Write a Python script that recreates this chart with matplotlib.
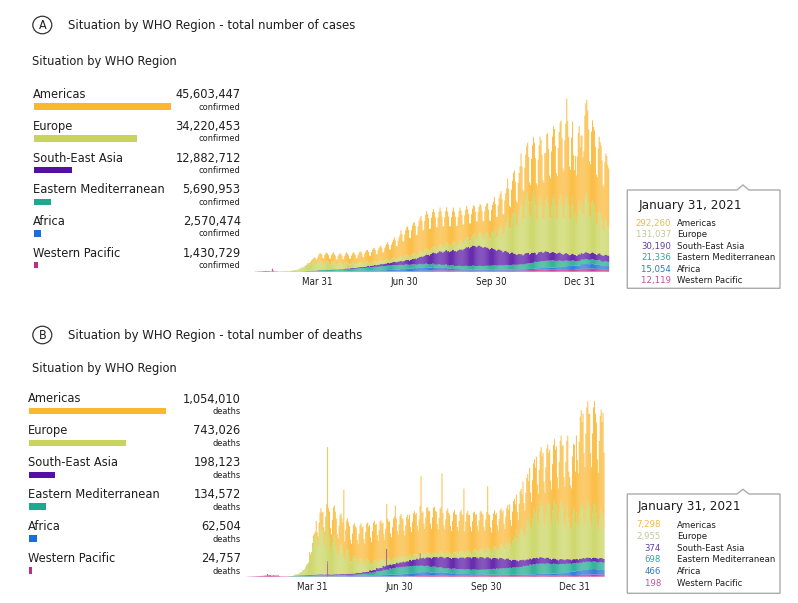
import datetime as dt

import matplotlib
matplotlib.use("Agg")
import matplotlib.pyplot as plt
import matplotlib.dates as mdates
from matplotlib.patches import Ellipse, Polygon
import numpy as np

W, H = 798, 603

REGIONS = ["Americas", "Europe", "South-East Asia", "Eastern Mediterranean",
           "Africa", "Western Pacific"]
BAR_COLORS = ["#FBB731", "#C9D45C", "#5410A3", "#1BAA8D", "#1A6FD6", "#C42A8C"]
TIP_COLORS = ["#F5B544", "#C3C79A", "#5F3FA6", "#2BA79E", "#3079C2", "#C0519B"]

TOTAL_CASES = [45603447, 34220453, 12882712, 5690953, 2570474, 1430729]
TOTAL_DEATHS = [1054010, 743026, 198123, 134572, 62504, 24757]
LAST_DAY_CASES = [292260, 131037, 30190, 21336, 15054, 12119]
LAST_DAY_DEATHS = [7298, 2955, 374, 698, 466, 198]
LAST_DAY_LABEL = "January 31, 2021"

TICK_DATES = [dt.date(2020, 3, 31), dt.date(2020, 6, 30),
              dt.date(2020, 9, 30), dt.date(2020, 12, 31)]
TICK_LABELS = ["Mar 31", "Jun 30", "Sep 30", "Dec 31"]

FIRST_DAY = np.datetime64("2020-01-22")

# ---------------------------------------------------------------------------
# Daily new cases, thousands, 22 Jan 2020 .. 31 Jan 2021 (two weeks per line)
# ---------------------------------------------------------------------------
amr_cases = [
    0, 0, 0, 0, 0, 0, 0, 0, 0, 0,
    0, 0, 0, 0, 0, 0, 0, 0, 0, 0, 0, 0, 0, 0,
    0, 0, 0, 0, 0, 0, 0, 0, 0, 0, 0, 0, 0, 0,
    0, 0, 0, 0, 0, 0, 0, 0, 0, 0, 0, 0, 1, 1,
    1, 1, 1, 2, 2, 3, 4, 5, 6, 7, 9, 12, 14, 17,
    20, 22, 20, 23, 27, 30, 33, 36, 34, 28, 27, 34, 38, 40,
    38, 35, 28, 27, 34, 39, 42, 40, 36, 27, 26, 35, 38, 42,
    41, 38, 29, 27, 36, 41, 45, 42, 38, 29, 28, 37, 42, 47,
    45, 40, 30, 29, 39, 45, 49, 51, 45, 34, 32, 44, 50, 55,
    57, 50, 38, 36, 49, 56, 61, 62, 55, 41, 40, 54, 62, 67,
    68, 60, 45, 43, 59, 67, 73, 80, 70, 53, 50, 69, 78, 86,
    97, 85, 64, 61, 83, 95, 104, 126, 110, 83, 79, 108, 123, 134,
    140, 125, 95, 90, 122, 140, 150, 152, 135, 100, 97, 132, 150, 160,
    172, 150, 113, 108, 147, 168, 183, 170, 152, 110, 106, 150, 170, 180,
    166, 145, 109, 104, 142, 162, 177, 161, 140, 105, 101, 137, 157, 171,
    155, 135, 101, 97, 132, 151, 165, 150, 130, 98, 94, 127, 146, 159,
    144, 125, 94, 90, 122, 140, 152, 132, 115, 86, 83, 113, 129, 140,
    129, 112, 84, 81, 110, 125, 137, 132, 115, 86, 83, 113, 129, 140,
    136, 118, 89, 85, 116, 132, 144, 150, 130, 98, 94, 127, 146, 159,
    155, 135, 101, 97, 132, 151, 165, 167, 145, 109, 104, 142, 162, 190,
    184, 160, 120, 115, 157, 179, 195, 213, 185, 139, 133, 181, 207, 226,
    247, 215, 161, 155, 211, 241, 255, 265, 230, 173, 166, 225, 258, 280,
    288, 250, 188, 180, 260, 230, 300, 311, 270, 203, 194, 265, 302, 329,
    334, 290, 218, 209, 284, 325, 350, 368, 320, 240, 230, 314, 358, 450,
    370, 330, 250, 240, 330, 360, 250, 230, 280, 230, 290, 340, 360, 300,
    320, 330, 280, 300, 400, 430, 450, 414, 360, 270, 259, 353, 390, 370,
    368, 320, 240, 230, 314, 350, 340, 334, 290, 218, 209, 284, 310, 310,
    300, 292,
]
eur_cases = [
    0, 0, 0, 0, 0, 0, 0, 0, 0, 0,
    0, 0, 0, 0, 0, 0, 0, 0, 0, 0, 0, 0, 0, 0,
    0, 0, 0, 0, 0, 0, 0, 0, 0, 0, 1, 1, 1, 1,
    1, 1, 2, 2, 2, 3, 3, 5, 6, 6, 7, 9, 11, 12,
    16, 18, 17, 19, 22, 24, 26, 32, 30, 31, 33, 38, 40, 42,
    44, 40, 32, 33, 40, 46, 48, 44, 40, 30, 29, 37, 42, 44,
    40, 36, 27, 26, 34, 38, 41, 35, 31, 23, 22, 29, 33, 36,
    32, 28, 21, 20, 27, 31, 34, 29, 25, 19, 18, 24, 28, 30,
    25, 22, 17, 16, 21, 25, 27, 23, 20, 15, 14, 19, 22, 24,
    21, 18, 14, 13, 18, 20, 22, 20, 17, 13, 12, 17, 19, 21,
    20, 17, 13, 12, 17, 19, 21, 21, 18, 14, 13, 18, 20, 22,
    22, 19, 14, 14, 19, 21, 23, 23, 20, 15, 14, 20, 22, 24,
    23, 20, 15, 14, 20, 22, 24, 25, 22, 17, 16, 22, 25, 27,
    26, 23, 17, 17, 23, 26, 28, 29, 25, 19, 18, 25, 28, 30,
    32, 28, 21, 20, 27, 31, 34, 35, 30, 23, 22, 29, 34, 37,
    38, 33, 25, 24, 32, 37, 40, 41, 36, 27, 26, 35, 40, 44,
    46, 40, 30, 29, 39, 45, 49, 52, 45, 34, 32, 44, 50, 55,
    63, 55, 41, 40, 54, 62, 67, 69, 60, 45, 43, 59, 67, 73,
    80, 70, 53, 50, 69, 78, 85, 104, 90, 68, 65, 88, 101, 110,
    132, 115, 86, 83, 113, 129, 140, 190, 165, 124, 119, 162, 185, 201,
    219, 190, 143, 137, 186, 213, 232, 276, 240, 180, 173, 235, 269, 293,
    288, 250, 188, 180, 245, 280, 305, 265, 230, 173, 166, 225, 258, 280,
    253, 220, 165, 158, 216, 246, 268, 265, 230, 173, 166, 225, 258, 281,
    265, 230, 173, 166, 225, 258, 281, 276, 240, 180, 173, 235, 269, 300,
    276, 240, 180, 173, 235, 280, 230, 180, 200, 160, 190, 250, 260, 220,
    250, 240, 190, 195, 265, 290, 290, 276, 240, 180, 173, 235, 250, 240,
    230, 200, 150, 144, 196, 215, 200, 196, 170, 128, 122, 167, 180, 170,
    140, 131,
]
sear_cases = [
    0, 0, 0, 0, 0, 0, 0, 0, 0, 0,
    0, 0, 0, 0, 0, 0, 0, 0, 0, 0, 0, 0, 0, 0,
    0, 0, 0, 0, 0, 0, 0, 0, 0, 0, 0, 0, 0, 0,
    0, 0, 0, 0, 0, 0, 0, 0, 0, 0, 0, 0, 0, 0,
    0, 0, 0, 0, 0, 0, 0, 0, 0, 0, 0, 0, 1, 1,
    0, 0, 0, 1, 1, 1, 1, 1, 1, 1, 1, 1, 1, 1,
    1, 1, 1, 2, 2, 2, 2, 2, 2, 2, 2, 2, 2, 2,
    2, 2, 2, 3, 3, 3, 3, 3, 3, 3, 4, 4, 4, 4,
    4, 4, 4, 5, 5, 5, 5, 5, 5, 5, 6, 6, 6, 6,
    7, 7, 6, 7, 7, 8, 8, 9, 9, 8, 9, 9, 10, 10,
    11, 11, 10, 11, 11, 12, 12, 13, 13, 12, 13, 14, 14, 15,
    16, 16, 15, 16, 17, 17, 18, 19, 19, 18, 19, 20, 21, 21,
    23, 23, 22, 24, 25, 26, 27, 28, 29, 28, 30, 31, 33, 34,
    36, 37, 36, 38, 40, 42, 44, 45, 46, 45, 48, 51, 53, 55,
    55, 56, 54, 56, 59, 62, 63, 64, 64, 61, 63, 66, 68, 69,
    69, 69, 66, 68, 70, 72, 74, 72, 73, 70, 73, 76, 78, 79,
    80, 81, 78, 82, 85, 88, 90, 91, 92, 88, 91, 95, 97, 98,
    97, 96, 92, 95, 98, 99, 96, 93, 93, 89, 90, 93, 91, 88,
    88, 84, 80, 82, 86, 84, 80, 79, 77, 72, 74, 78, 77, 74,
    72, 70, 64, 66, 70, 68, 66, 63, 61, 56, 58, 62, 60, 56,
    54, 52, 48, 49, 53, 52, 50, 49, 48, 44, 46, 52, 53, 52,
    50, 50, 44, 45, 50, 50, 49, 46, 43, 36, 38, 45, 47, 46,
    46, 45, 40, 42, 46, 47, 45, 43, 41, 37, 38, 40, 41, 40,
    40, 38, 35, 36, 38, 39, 38, 36, 34, 31, 32, 35, 36, 36,
    33, 31, 29, 29, 32, 33, 31, 30, 29, 26, 27, 31, 32, 30,
    31, 30, 28, 29, 32, 34, 33, 33, 31, 29, 30, 32, 33, 32,
    32, 30, 27, 28, 31, 32, 31, 31, 30, 28, 29, 31, 31, 30,
    30, 30,
]
emr_cases = [
    0, 0, 0, 0, 0, 0, 0, 0, 0, 0,
    0, 0, 0, 0, 0, 0, 0, 0, 0, 0, 0, 0, 0, 0,
    0, 0, 0, 0, 0, 0, 0, 0, 0, 0, 0, 0, 0, 0,
    0, 0, 0, 0, 1, 1, 1, 1, 1, 1, 1, 1, 1, 1,
    1, 1, 1, 2, 2, 2, 2, 3, 3, 3, 3, 3, 3, 3,
    4, 4, 4, 4, 4, 4, 4, 5, 5, 5, 5, 5, 5, 5,
    6, 6, 6, 6, 6, 6, 6, 7, 7, 6, 7, 7, 7, 8,
    8, 8, 7, 8, 8, 9, 9, 10, 10, 9, 10, 10, 11, 11,
    12, 12, 11, 12, 12, 13, 13, 14, 14, 13, 14, 14, 15, 15,
    16, 16, 15, 16, 16, 17, 17, 18, 18, 17, 18, 18, 19, 19,
    20, 20, 19, 20, 20, 21, 21, 22, 22, 21, 22, 22, 23, 23,
    22, 22, 21, 22, 22, 23, 23, 21, 21, 20, 21, 21, 22, 22,
    19, 19, 18, 19, 19, 20, 20, 18, 18, 17, 18, 18, 19, 19,
    17, 17, 16, 17, 17, 18, 18, 16, 16, 15, 16, 16, 17, 17,
    15, 15, 14, 15, 15, 16, 16, 15, 15, 14, 15, 15, 16, 16,
    15, 15, 14, 15, 15, 16, 16, 15, 15, 14, 15, 15, 16, 16,
    16, 16, 15, 16, 16, 17, 17, 17, 17, 16, 17, 17, 18, 18,
    18, 18, 17, 18, 18, 19, 19, 19, 19, 18, 19, 19, 20, 20,
    20, 20, 19, 20, 20, 21, 21, 21, 21, 20, 21, 21, 22, 22,
    22, 22, 21, 22, 22, 23, 23, 22, 22, 21, 22, 22, 23, 23,
    23, 23, 22, 23, 23, 24, 24, 25, 25, 24, 25, 25, 26, 26,
    28, 28, 27, 28, 28, 29, 29, 32, 32, 31, 32, 32, 33, 33,
    34, 34, 33, 34, 34, 35, 35, 34, 34, 33, 34, 34, 35, 35,
    32, 32, 31, 32, 32, 33, 33, 28, 28, 27, 28, 28, 29, 29,
    25, 25, 24, 25, 25, 26, 26, 23, 23, 22, 23, 23, 24, 24,
    23, 23, 22, 23, 23, 24, 24, 22, 22, 21, 22, 22, 23, 23,
    22, 22, 21, 22, 22, 23, 23, 21, 21, 20, 21, 21, 22, 22,
    21, 21,
]
afr_cases = [
    0, 0, 0, 0, 0, 0, 0, 0, 0, 0,
    0, 0, 0, 0, 0, 0, 0, 0, 0, 0, 0, 0, 0, 0,
    0, 0, 0, 0, 0, 0, 0, 0, 0, 0, 0, 0, 0, 0,
    0, 0, 0, 0, 0, 0, 0, 0, 0, 0, 0, 0, 0, 0,
    0, 0, 0, 0, 0, 0, 0, 0, 0, 0, 0, 0, 0, 0,
    0, 0, 0, 0, 1, 1, 1, 1, 1, 1, 1, 1, 1, 1,
    1, 1, 1, 1, 1, 1, 1, 1, 1, 1, 1, 1, 1, 1,
    1, 1, 1, 2, 2, 2, 2, 2, 2, 2, 2, 2, 2, 2,
    2, 2, 2, 3, 3, 3, 3, 3, 3, 3, 3, 3, 3, 3,
    4, 4, 4, 4, 4, 4, 4, 5, 5, 5, 5, 5, 5, 5,
    6, 6, 6, 6, 6, 6, 6, 7, 7, 7, 7, 7, 7, 7,
    8, 8, 8, 8, 8, 8, 8, 10, 10, 9, 10, 10, 11, 11,
    12, 12, 11, 12, 12, 13, 13, 14, 14, 13, 14, 14, 15, 15,
    16, 16, 15, 16, 16, 17, 17, 15, 15, 14, 15, 15, 16, 16,
    14, 14, 13, 14, 14, 15, 15, 12, 12, 11, 12, 12, 13, 13,
    9, 9, 9, 9, 9, 10, 9, 7, 7, 7, 7, 7, 8, 7,
    6, 6, 6, 6, 6, 6, 6, 5, 5, 5, 5, 5, 6, 5,
    5, 5, 5, 5, 5, 5, 5, 4, 4, 4, 4, 4, 4, 4,
    4, 4, 4, 4, 4, 4, 4, 4, 4, 4, 4, 4, 4, 4,
    4, 4, 4, 4, 4, 4, 4, 4, 4, 4, 4, 4, 5, 4,
    5, 5, 5, 5, 5, 5, 5, 5, 5, 5, 5, 5, 6, 5,
    6, 6, 6, 6, 6, 6, 6, 7, 7, 7, 7, 7, 7, 7,
    7, 7, 7, 7, 7, 7, 7, 8, 8, 8, 8, 8, 8, 8,
    9, 9, 9, 9, 9, 10, 9, 12, 12, 11, 12, 12, 13, 12,
    15, 15, 14, 15, 15, 16, 15, 17, 17, 16, 17, 17, 18, 17,
    22, 22, 21, 22, 22, 23, 22, 22, 22, 21, 22, 22, 23, 22,
    20, 20, 19, 20, 20, 21, 20, 17, 17, 16, 17, 17, 18, 17,
    15, 15,
]
wpr_cases = [
    0, 0, 0, 0, 1, 1, 1, 2, 2, 2,
    2, 2, 3, 3, 3, 4, 3, 3, 3, 3, 2, 2, 15, 5,
    2, 2, 2, 2, 1, 1, 1, 1, 1, 1, 1, 1, 1, 1,
    1, 1, 1, 1, 1, 1, 1, 1, 1, 1, 0, 0, 0, 0,
    0, 1, 0, 1, 0, 1, 1, 1, 1, 1, 1, 1, 1, 1,
    1, 2, 1, 2, 1, 2, 2, 2, 2, 2, 2, 2, 2, 2,
    2, 1, 2, 1, 2, 1, 2, 1, 1, 1, 1, 1, 1, 1,
    1, 1, 1, 1, 1, 1, 1, 1, 1, 1, 1, 1, 1, 1,
    1, 1, 1, 1, 1, 1, 1, 1, 1, 1, 1, 1, 1, 1,
    1, 1, 1, 1, 1, 1, 1, 1, 1, 1, 1, 1, 1, 1,
    1, 1, 1, 1, 1, 1, 1, 1, 2, 1, 2, 1, 2, 2,
    2, 2, 2, 2, 2, 2, 2, 2, 3, 2, 3, 2, 3, 3,
    3, 3, 3, 3, 3, 3, 3, 3, 4, 3, 4, 3, 4, 4,
    4, 5, 4, 5, 4, 5, 5, 5, 6, 5, 6, 5, 6, 6,
    6, 6, 6, 6, 6, 6, 6, 6, 7, 6, 7, 6, 7, 7,
    6, 7, 6, 7, 6, 7, 7, 6, 6, 6, 6, 6, 6, 6,
    5, 6, 5, 6, 5, 6, 6, 5, 6, 5, 6, 5, 6, 6,
    5, 5, 5, 5, 5, 5, 5, 5, 5, 5, 5, 5, 5, 5,
    5, 5, 5, 5, 5, 5, 5, 5, 6, 5, 6, 5, 6, 6,
    5, 6, 5, 6, 5, 6, 6, 6, 6, 6, 6, 6, 6, 6,
    6, 6, 6, 6, 6, 6, 6, 6, 7, 6, 7, 6, 7, 7,
    7, 8, 7, 8, 7, 8, 8, 9, 9, 9, 9, 9, 9, 9,
    11, 11, 11, 11, 11, 11, 11, 12, 12, 12, 12, 12, 12, 12,
    12, 12, 12, 12, 12, 12, 12, 13, 13, 13, 13, 13, 13, 13,
    13, 13, 13, 13, 13, 13, 13, 12, 12, 12, 12, 12, 12, 12,
    15, 15, 15, 15, 15, 15, 15, 15, 15, 15, 15, 15, 15, 15,
    14, 14, 14, 14, 14, 14, 14, 12, 12, 12, 12, 12, 12, 12,
    12, 12,
]

# ---------------------------------------------------------------------------
# Daily new deaths, hundreds, same days
# ---------------------------------------------------------------------------
amr_deaths = [
    0, 0, 0, 0, 0, 0, 0, 0, 0, 0,
    0, 0, 0, 0, 0, 0, 0, 0, 0, 0, 0, 0, 0, 0,
    0, 0, 0, 0, 0, 0, 0, 0, 0, 0, 0, 0, 0, 0,
    0, 0, 0, 0, 0, 0, 0, 0, 0, 0, 0, 0, 0, 0,
    0, 0, 0, 0, 0, 0, 0, 0, 0, 0, 0, 1, 1, 1,
    2, 2, 2, 3, 4, 4, 4, 8, 9, 9, 12, 14, 16, 16,
    19, 16, 15, 20, 24, 65, 22, 26, 19, 17, 23, 28, 29, 26,
    26, 19, 17, 23, 28, 29, 26, 28, 66, 18, 24, 29, 30, 28,
    29, 21, 18, 25, 30, 31, 29, 31, 22, 20, 27, 32, 34, 31,
    33, 24, 21, 29, 35, 36, 33, 35, 26, 22, 30, 37, 38, 35,
    35, 26, 22, 30, 37, 38, 35, 35, 26, 22, 30, 37, 38, 35,
    36, 26, 23, 31, 38, 40, 51, 37, 27, 24, 32, 39, 41, 37,
    36, 26, 23, 31, 38, 40, 36, 39, 28, 25, 33, 40, 42, 39,
    40, 29, 25, 34, 41, 75, 40, 41, 30, 26, 35, 43, 44, 41,
    41, 30, 26, 35, 43, 44, 41, 40, 29, 25, 34, 41, 43, 77,
    39, 28, 25, 33, 40, 42, 39, 37, 27, 24, 32, 39, 41, 37,
    36, 26, 23, 31, 38, 40, 36, 35, 63, 22, 30, 37, 38, 35,
    34, 25, 22, 29, 36, 37, 34, 34, 25, 22, 29, 36, 37, 34,
    33, 24, 21, 29, 35, 59, 33, 32, 23, 20, 28, 33, 35, 32,
    32, 23, 20, 28, 33, 35, 32, 32, 23, 20, 28, 33, 35, 32,
    33, 24, 21, 29, 35, 36, 33, 35, 26, 22, 30, 37, 38, 35,
    40, 29, 25, 34, 41, 43, 40, 44, 32, 28, 38, 46, 48, 44,
    48, 35, 31, 42, 51, 53, 48, 51, 37, 32, 44, 53, 55, 51,
    53, 38, 34, 46, 55, 58, 53, 57, 42, 36, 49, 60, 62, 57,
    61, 44, 39, 52, 63, 66, 45, 45, 42, 40, 55, 62, 63, 50,
    75, 60, 52, 71, 86, 90, 83, 88, 64, 56, 76, 92, 96, 88,
    90, 66, 57, 78, 94, 98, 90, 88, 64, 56, 76, 92, 96, 88,
    100, 73,
]
eur_deaths = [
    0, 0, 0, 0, 0, 0, 0, 0, 0, 0,
    0, 0, 0, 0, 0, 0, 0, 0, 0, 0, 0, 0, 0, 0,
    0, 0, 0, 0, 0, 0, 0, 0, 0, 0, 0, 0, 0, 0,
    0, 0, 0, 0, 0, 0, 0, 0, 0, 0, 0, 0, 1, 1,
    1, 1, 1, 2, 2, 3, 3, 5, 5, 6, 8, 9, 10, 11,
    20, 18, 20, 28, 34, 36, 38, 44, 32, 28, 38, 46, 48, 44,
    42, 30, 27, 36, 44, 46, 42, 35, 26, 22, 30, 37, 38, 35,
    28, 20, 18, 24, 29, 30, 28, 22, 16, 14, 19, 23, 24, 22,
    17, 12, 11, 14, 17, 18, 17, 13, 10, 8, 11, 14, 14, 13,
    11, 8, 7, 10, 12, 12, 11, 9, 6, 6, 8, 9, 10, 9,
    8, 6, 5, 7, 8, 8, 8, 7, 5, 4, 6, 7, 7, 7,
    6, 4, 4, 5, 6, 6, 6, 6, 4, 4, 5, 6, 6, 6,
    5, 4, 3, 4, 5, 5, 5, 5, 4, 3, 4, 5, 5, 5,
    4, 3, 3, 4, 5, 5, 4, 4, 3, 3, 4, 5, 5, 4,
    4, 3, 3, 4, 5, 5, 4, 4, 3, 3, 4, 5, 5, 4,
    4, 3, 3, 4, 5, 5, 4, 5, 4, 3, 4, 5, 5, 5,
    6, 4, 4, 5, 6, 6, 6, 6, 4, 4, 5, 6, 7, 6,
    7, 5, 4, 6, 7, 7, 7, 8, 6, 5, 7, 8, 8, 8,
    9, 6, 6, 8, 9, 10, 9, 10, 7, 6, 9, 10, 11, 10,
    12, 9, 8, 10, 13, 13, 12, 15, 11, 10, 13, 16, 17, 15,
    21, 15, 13, 18, 22, 23, 21, 29, 21, 18, 25, 30, 31, 29,
    36, 26, 23, 31, 38, 40, 36, 44, 32, 28, 38, 46, 48, 44,
    50, 36, 32, 43, 52, 54, 50, 51, 37, 32, 44, 53, 55, 51,
    53, 38, 34, 46, 55, 58, 53, 53, 38, 34, 46, 55, 58, 53,
    50, 36, 32, 43, 52, 54, 40, 35, 30, 30, 45, 50, 48, 35,
    45, 36, 32, 43, 52, 54, 50, 52, 38, 33, 45, 54, 56, 52,
    50, 36, 32, 43, 52, 54, 50, 44, 32, 28, 38, 46, 48, 44,
    42, 30,
]
sear_deaths = [
    0, 0, 0, 0, 0, 0, 0, 0, 0, 0,
    0, 0, 0, 0, 0, 0, 0, 0, 0, 0, 0, 0, 0, 0,
    0, 0, 0, 0, 0, 0, 0, 0, 0, 0, 0, 0, 0, 0,
    0, 0, 0, 0, 0, 0, 0, 0, 0, 0, 0, 0, 0, 0,
    0, 0, 0, 0, 0, 0, 0, 0, 0, 0, 0, 0, 0, 0,
    0.1, 0.1, 0.1, 0.1, 0.1, 0.1, 0.1, 0.2, 0.2, 0.3, 0.3, 0.3, 0.4, 0.4,
    0.4, 0.4, 0.3, 0.4, 0.4, 0.5, 0.5, 0.5, 0.5, 0.4, 0.5, 0.5, 0.6, 0.6,
    0.7, 0.7, 0.6, 0.7, 0.7, 0.8, 0.8, 0.8, 0.8, 0.7, 0.8, 0.8, 0.9, 0.9,
    1, 1, 0.9, 1, 1, 1.1, 1.1, 1.4, 1.4, 1.3, 1.4, 1.4, 1.5, 1.5,
    1.6, 1.6, 1.5, 1.6, 1.6, 1.7, 1.7, 2.2, 2.3, 2.1, 2.3, 2.4, 2.4, 2.5,
    3, 3, 2.8, 3, 3.1, 3.2, 3.2, 3.8, 3.9, 3.6, 3.9, 20, 4.4, 4.5,
    4, 4, 3.7, 4, 4.1, 4.2, 4.2, 4.5, 4.5, 4.2, 4.5, 4.6, 4.7, 4.7,
    5, 5, 4.7, 5, 5.1, 5.2, 5.2, 6, 6, 5.6, 6, 6.1, 6.2, 6.2,
    7, 7, 6.6, 7, 12, 7.2, 7.2, 8, 8, 7.5, 8, 8.2, 8.3, 8.3,
    9, 9, 8.5, 9, 9.2, 9.3, 9.3, 10, 10, 9.4, 10, 10.2, 10.3, 10.3,
    10.5, 10.5, 9.9, 10.5, 10.7, 10.8, 10.8, 10.5, 10.5, 9.9, 10.5, 10.7, 10.8, 10.8,
    11, 11, 10.4, 11, 11.2, 11.3, 11.3, 11.5, 11.5, 10.9, 11.5, 11.7, 11.8, 11.8,
    12, 12, 11.3, 12, 12.2, 12.3, 12.3, 12, 12, 11.3, 12, 12.2, 12.3, 12.3,
    11.5, 11.5, 10.9, 11.5, 11.7, 11.8, 11.8, 10.5, 10.5, 9.9, 10.5, 10.7, 10.8, 10.8,
    10, 10, 9.4, 10, 10.2, 10.3, 10.3, 9, 9, 8.5, 9, 9.2, 9.3, 9.3,
    7.5, 7.5, 7.1, 7.5, 7.6, 7.7, 7.7, 6.5, 6.5, 6.1, 6.5, 6.6, 6.7, 6.7,
    6, 6, 5.7, 6, 6.1, 6.2, 6.2, 6, 6, 5.7, 6, 6.1, 6.2, 6.2,
    6, 6, 5.7, 6, 6.1, 6.2, 6.2, 5.5, 5.5, 5.2, 5.5, 5.6, 5.7, 5.7,
    5, 5, 4.7, 5, 5.1, 5.2, 5.2, 4.5, 4.5, 4.2, 4.5, 4.6, 4.7, 4.7,
    4.2, 4.2, 4, 4.2, 4.3, 4.4, 4.4, 4, 4, 3.8, 4, 4.1, 4.2, 4.2,
    3.8, 3.8, 3.6, 3.8, 3.9, 4, 4, 3.8, 3.8, 3.6, 3.8, 3.9, 4, 4,
    3.7, 3.7, 3.5, 3.7, 3.8, 3.9, 3.9, 3.8, 3.8, 3.6, 3.8, 3.9, 4, 4,
    3.7, 3.7,
]
emr_deaths = [
    0, 0, 0, 0, 0, 0, 0, 0, 0, 0,
    0, 0, 0, 0, 0, 0, 0, 0, 0, 0, 0, 0, 0, 0,
    0, 0, 0, 0, 0, 0, 0, 0, 0, 0, 0, 0, 0, 0,
    0, 0, 0, 0, 0, 0.1, 0.1, 0.2, 0.3, 0.4, 0.5, 0.6, 0.7, 0.8,
    1, 1, 1.1, 1.2, 1.3, 1.3, 1.4, 1.5, 1.4, 1.5, 1.6, 1.5, 1.5, 1.6,
    1.5, 1.4, 1.5, 1.5, 1.6, 1.5, 1.5, 1.6, 1.6, 1.5, 1.6, 1.6, 1.7, 1.6,
    1.4, 1.4, 1.3, 1.4, 1.5, 1.4, 1.4, 1.2, 1.2, 1.1, 1.2, 1.3, 1.2, 1.2,
    1.2, 1.2, 1.1, 1.2, 1.3, 1.2, 1.2, 1.2, 1.2, 1.1, 1.2, 1.3, 1.2, 1.2,
    1.3, 1.3, 1.2, 1.3, 1.4, 1.3, 1.3, 1.5, 1.5, 1.4, 1.5, 1.6, 1.5, 1.5,
    2, 2, 1.9, 2, 2.1, 2, 2, 2.8, 2.8, 2.6, 2.8, 2.9, 2.8, 2.8,
    4, 4, 3.8, 4, 4.1, 4, 4, 5, 5, 4.7, 5, 5.2, 5, 5,
    6, 6, 5.7, 6, 6.2, 6, 6, 7, 7, 6.6, 7, 7.2, 7, 7,
    7, 7, 6.6, 7, 7.2, 7, 7, 7, 7, 6.6, 7, 7.2, 7, 7,
    6.5, 6.5, 6.2, 6.5, 6.7, 6.5, 6.5, 6, 6, 5.7, 6, 6.2, 6, 6,
    5.5, 5.5, 5.2, 5.5, 5.7, 5.5, 5.5, 5, 5, 4.7, 5, 5.2, 5, 5,
    4.5, 4.5, 4.3, 4.5, 4.6, 4.5, 4.5, 4.5, 4.5, 4.3, 4.5, 4.6, 4.5, 4.5,
    4.5, 4.5, 4.3, 4.5, 4.6, 4.5, 4.5, 4.5, 4.5, 4.3, 4.5, 4.6, 4.5, 4.5,
    4.5, 4.5, 4.3, 4.5, 4.6, 4.5, 4.5, 4.5, 4.5, 4.3, 4.5, 4.6, 4.5, 4.5,
    5, 5, 4.7, 5, 5.2, 5, 5, 5.5, 5.5, 5.2, 5.5, 5.7, 5.5, 5.5,
    6, 6, 5.7, 6, 6.2, 6, 6, 6.5, 6.5, 6.2, 6.5, 6.7, 6.5, 6.5,
    7, 7, 6.6, 7, 7.2, 7, 7, 7.5, 7.5, 7.1, 7.5, 7.7, 7.5, 7.5,
    8.5, 8.5, 8.1, 8.5, 8.7, 8.5, 8.5, 9.5, 9.5, 9, 9.5, 9.8, 9.5, 9.5,
    10, 10, 9.5, 10, 10.3, 10, 10, 10, 10, 9.5, 10, 10.3, 10, 10,
    9.5, 9.5, 9, 9.5, 9.8, 9.5, 9.5, 9, 9, 8.5, 9, 9.3, 9, 9,
    8.5, 8.5, 8.1, 8.5, 8.7, 8.5, 8.5, 8, 8, 7.6, 8, 8.2, 8, 8,
    7.5, 7.5, 7.1, 7.5, 7.7, 7.5, 7.5, 7.5, 7.5, 7.1, 7.5, 7.7, 7.5, 7.5,
    7.2, 7.2, 6.8, 7.2, 7.4, 7.2, 7.2, 7, 7, 6.6, 7, 7.2, 7, 7,
    7, 7,
]
afr_deaths = [
    0, 0, 0, 0, 0, 0, 0, 0, 0, 0,
    0, 0, 0, 0, 0, 0, 0, 0, 0, 0, 0, 0, 0, 0,
    0, 0, 0, 0, 0, 0, 0, 0, 0, 0, 0, 0, 0, 0,
    0, 0, 0, 0, 0, 0, 0, 0, 0, 0, 0, 0, 0, 0,
    0, 0, 0, 0, 0, 0, 0, 0, 0, 0, 0, 0, 0, 0,
    0, 0, 0, 0, 0.1, 0.1, 0.1, 0.1, 0.1, 0.1, 0.1, 0.1, 0.1, 0.1,
    0.1, 0.1, 0.1, 0.2, 0.2, 0.2, 0.2, 0.2, 0.2, 0.2, 0.2, 0.2, 0.2, 0.2,
    0.3, 0.3, 0.3, 0.3, 0.3, 0.3, 0.3, 0.4, 0.4, 0.4, 0.4, 0.4, 0.4, 0.4,
    0.5, 0.5, 0.5, 0.5, 0.5, 0.5, 0.5, 0.6, 0.6, 0.6, 0.6, 0.6, 0.6, 0.6,
    0.8, 0.8, 0.7, 0.8, 0.8, 0.8, 0.8, 1, 1, 0.9, 1, 1, 1.1, 1,
    1.2, 1.2, 1.1, 1.2, 1.2, 1.3, 1.2, 1.5, 1.5, 1.4, 1.5, 1.5, 1.6, 1.5,
    1.8, 1.8, 1.7, 1.8, 1.8, 1.9, 1.8, 2, 2, 1.9, 2, 2, 2.1, 2,
    2.5, 2.5, 2.4, 2.5, 2.5, 2.6, 2.5, 3, 3, 2.8, 3, 3, 3.1, 3,
    3.5, 3.5, 3.3, 3.5, 3.5, 3.6, 3.5, 3.5, 3.5, 3.3, 3.5, 3.5, 3.6, 3.5,
    3.2, 3.2, 3, 3.2, 3.2, 3.3, 3.2, 3, 3, 2.8, 3, 3, 3.1, 3,
    2.5, 2.5, 2.4, 2.5, 2.5, 2.6, 2.5, 2, 2, 1.9, 2, 2, 2.1, 2,
    1.7, 1.7, 1.6, 1.7, 1.7, 1.8, 1.7, 1.5, 1.5, 1.4, 1.5, 1.5, 1.6, 1.5,
    1.3, 1.3, 1.2, 1.3, 1.3, 1.4, 1.3, 1.2, 1.2, 1.1, 1.2, 1.2, 1.3, 1.2,
    1.1, 1.1, 1, 1.1, 1.1, 1.2, 1.1, 1, 1, 0.9, 1, 1, 1.1, 1,
    1, 1, 0.9, 1, 1, 1.1, 1, 1, 1, 0.9, 1, 1, 1.1, 1,
    1, 1, 0.9, 1, 1, 1.1, 1, 1.1, 1.1, 1, 1.1, 1.1, 1.2, 1.1,
    1.2, 1.2, 1.1, 1.2, 1.2, 1.3, 1.2, 1.3, 1.3, 1.2, 1.3, 1.3, 1.4, 1.3,
    1.5, 1.5, 1.4, 1.5, 1.5, 1.6, 1.5, 1.6, 1.6, 1.5, 1.6, 1.6, 1.7, 1.6,
    1.7, 1.7, 1.6, 1.7, 1.7, 1.8, 1.7, 2, 2, 1.9, 2, 2, 2.1, 2,
    2.6, 2.6, 2.5, 2.6, 2.6, 2.7, 2.6, 3.2, 3.2, 3, 3.2, 3.2, 3.3, 3.2,
    4.2, 4.2, 4, 4.2, 4.2, 4.3, 4.2, 5, 5, 4.8, 5, 5, 5.1, 5,
    5.2, 5.2, 5, 5.2, 5.2, 5.3, 5.2, 5, 5, 4.8, 5, 5, 5.1, 5,
    4.7, 4.7,
]
wpr_deaths = [
    0.1, 0.1, 0.2, 0.2, 0.2, 0.3, 0.3, 0.4, 0.4, 0.4,
    0.5, 0.5, 0.6, 0.6, 0.7, 0.7, 0.8, 0.8, 0.9, 1, 1.1, 1, 2.5, 1.2,
    1.4, 1.4, 1, 1, 1.4, 1.1, 1.2, 1.1, 1, 1.5, 0.7, 0.5, 0.3, 0.4,
    0.5, 0.3, 0.4, 0.3, 0.3, 0.3, 0.3, 0.3, 0.3, 0.2, 0.2, 0.2, 0.2, 0.2,
    0.2, 0.2, 0.2, 0.2, 0.2, 0.2, 0.2, 0.1, 0.1, 0.1, 0.1, 0.1, 0.2, 0.2,
    0.2, 0.2, 0.2, 0.2, 0.2, 0.2, 0.2, 0.3, 0.3, 0.3, 0.3, 0.3, 0.3, 0.3,
    0.3, 0.3, 0.3, 0.3, 0.3, 13, 0.3, 0.3, 0.3, 0.3, 0.3, 0.3, 0.3, 0.3,
    0.3, 0.2, 0.3, 0.2, 0.3, 0.2, 0.3, 0.2, 0.2, 0.2, 0.2, 0.2, 0.2, 0.2,
    0.2, 0.2, 0.2, 0.2, 0.2, 0.2, 0.2, 0.2, 0.2, 0.2, 0.2, 0.2, 0.2, 0.2,
    0.2, 0.2, 0.2, 0.2, 0.2, 0.2, 0.2, 0.2, 0.2, 0.2, 0.2, 0.2, 0.2, 0.2,
    0.2, 0.2, 0.2, 0.2, 0.2, 0.2, 0.2, 0.2, 0.2, 0.2, 0.2, 0.2, 0.2, 0.2,
    0.2, 0.2, 0.2, 0.2, 0.2, 0.2, 0.2, 0.2, 0.2, 0.2, 0.2, 0.2, 0.2, 0.2,
    0.3, 0.3, 0.3, 0.3, 0.3, 0.3, 0.3, 0.4, 0.4, 0.4, 0.4, 0.4, 0.4, 0.4,
    0.7, 0.7, 0.7, 0.7, 0.7, 0.7, 0.7, 1, 1, 1, 1, 1, 1, 1,
    1, 1, 1, 1, 1, 1, 1, 1.2, 1.2, 1.2, 1.2, 1.2, 1.2, 1.2,
    1.3, 1.3, 1.3, 1.3, 1.3, 1.3, 1.3, 1.3, 1.3, 1.3, 1.3, 1.3, 1.3, 1.3,
    1.2, 1.2, 1.2, 1.2, 1.2, 1.2, 1.2, 1.2, 1.2, 1.2, 1.2, 1.2, 1.2, 1.2,
    1.1, 1.1, 1.1, 1.1, 1.1, 1.1, 1.1, 1.1, 1.1, 1.1, 1.1, 1.1, 1.1, 1.1,
    1, 1, 1, 1, 1, 1, 1, 1, 1, 1, 1, 1, 1, 1,
    1, 1, 1, 1, 1, 1, 1, 0.9, 0.9, 0.9, 0.9, 0.9, 0.9, 0.9,
    0.8, 0.8, 0.8, 0.8, 0.8, 0.8, 0.8, 0.8, 0.8, 0.8, 0.8, 0.8, 0.8, 0.8,
    0.9, 0.9, 0.9, 0.9, 0.9, 0.9, 0.9, 1, 1, 1, 1, 1, 1, 1,
    1.1, 1.1, 1.1, 1.1, 1.1, 1.1, 1.1, 1.2, 1.2, 1.2, 1.2, 1.2, 1.2, 1.2,
    1.2, 1.2, 1.2, 1.2, 1.2, 1.2, 1.2, 1.3, 1.3, 1.3, 1.3, 1.3, 1.3, 1.3,
    1.5, 1.5, 1.5, 1.5, 1.5, 1.5, 1.5, 1.6, 1.6, 1.6, 1.6, 1.6, 1.6, 1.6,
    1.8, 1.8, 1.8, 1.8, 1.8, 1.8, 1.8, 2, 2, 2, 2, 2, 2, 2,
    2.2, 2.2, 2.2, 2.2, 2.2, 2.2, 2.2, 2.2, 2.2, 2.2, 2.2, 2.2, 2.2, 2.2,
    2, 2,
]

DAILY_CASES = [amr_cases, eur_cases, sear_cases, emr_cases, afr_cases, wpr_cases]
DAILY_DEATHS = [amr_deaths, eur_deaths, sear_deaths, emr_deaths, afr_deaths, wpr_deaths]

plt.rcParams["font.family"] = "DejaVu Sans"
plt.rcParams["font.stretch"] = "condensed"
TEXT = "#1e1e1e"


def fx(px):
    return px / W


def fy(py):
    return 1 - py / H


def ftext(fig, x, y, s, **kw):
    kw.setdefault("color", TEXT)
    kw.setdefault("va", "center")
    return fig.text(fx(x), fy(y), s, **kw)


def draw_header(fig, cy, letter, title, sub_x, sub_y):
    fig.add_artist(Ellipse((fx(42.3), fy(cy)), 19 / W, 17.5 / H,
                           transform=fig.transFigure, fill=False,
                           edgecolor="#333333", lw=0.9))
    ftext(fig, 42.3, cy + 0.5, letter, ha="center", fontsize=9)
    ftext(fig, 67.5, cy, title, fontsize=9.4)
    ftext(fig, sub_x, sub_y, "Situation by WHO Region", fontsize=9.2)


def draw_totals(fig, totals, unit, x0, row0, step):
    # one axes for the six horizontal total bars, rows one step apart
    full_px = 137.0
    ax = fig.add_axes([fx(x0), fy(row0 + 5.5 * step), 200 / W, 6 * step / H])
    ax.barh(range(len(totals)), totals, height=6.5 / step, left=0,
            color=BAR_COLORS, linewidth=0)
    ax.set_xlim(0, max(totals) * 200 / full_px)
    ax.set_ylim(5.5, -0.5)
    ax.axis("off")
    for i, (name, val) in enumerate(zip(REGIONS, totals)):
        y = row0 + i * step
        ftext(fig, x0 - 1, y - 12, name, fontsize=9.2)
        ftext(fig, 240.7, y - 12, f"{val:,}", ha="right", fontsize=9.2)
        ftext(fig, 240.7, y + 0.5, unit, ha="right", fontsize=6.6)


def draw_daily(fig, series, left, right, top, bottom, x0_px, ymax):
    ax = fig.add_axes([fx(left), fy(bottom), (right - left) / W, (bottom - top) / H])
    n = len(series[0])
    days = FIRST_DAY + np.arange(n)
    base = np.zeros(n)
    # stacked bottom-up: Western Pacific first, Americas on top
    for vals, color in zip(series[::-1], BAR_COLORS[::-1]):
        v = np.asarray(vals, dtype=float)
        ax.bar(days, v, bottom=base, width=0.92, color=color, linewidth=0,
               snap=False)
        base += v
    ref = mdates.date2num(dt.date(2020, 3, 31))
    px_per_day = 0.953
    ax.set_xlim(ref + (left - x0_px) / px_per_day, ref + (right - x0_px) / px_per_day)
    ax.set_ylim(0, ymax)
    ax.set_xticks(TICK_DATES)
    ax.set_xticklabels(TICK_LABELS, fontsize=7, color=TEXT)
    ax.tick_params(axis="x", length=0, pad=4)
    ax.set_yticks([])
    for s in ax.spines.values():
        s.set_visible(False)
    ax.patch.set_alpha(0)
    return ax


def draw_tooltip(fig, box, apex, title_xy, val_x, name_x, row0, step, values):
    l, t, r, b = box
    ax_, ay_ = apex
    pts = [(l, t), (ax_ - 6, t), (ax_, ay_), (ax_ + 6, t), (r, t), (r, b), (l, b)]
    fig.add_artist(Polygon([(fx(x), fy(y)) for x, y in pts], closed=True,
                           transform=fig.transFigure, facecolor="white",
                           edgecolor="#ababab", lw=1.0))
    ftext(fig, title_xy[0], title_xy[1], LAST_DAY_LABEL, fontsize=9.6)
    for i, (name, val) in enumerate(zip(REGIONS, values)):
        y = row0 + i * step
        ftext(fig, val_x, y, f"{val:,}", ha="right", fontsize=6.8, color=TIP_COLORS[i])
        ftext(fig, name_x, y, name, fontsize=6.8)


fig = plt.figure(figsize=(W / 100, H / 100), dpi=100, facecolor="white")

# Panel A: cases (thousands per day)
draw_header(fig, 25, "A", "Situation by WHO Region - total number of cases", 32, 61)
draw_totals(fig, TOTAL_CASES, "confirmed", 33.7, 106.7, 31.7)
draw_daily(fig, DAILY_CASES, 245, 615, 90, 271.7, 317.1, 181.7 * 4.85)
draw_tooltip(fig, (627.3, 190, 780, 288.3), (743, 185), (638.3, 205),
             671, 676.7, 223.3, 11.5, LAST_DAY_CASES)

# Panel B: deaths (hundreds per day)
draw_header(fig, 335, "B", "Situation by WHO Region - total number of deaths", 31.7, 368.3)
draw_totals(fig, TOTAL_DEATHS, "deaths", 29, 411, 31.9)
draw_daily(fig, DAILY_DEATHS, 240, 610, 400, 576.7, 312.4, 176.7 * 0.972)
draw_tooltip(fig, (627.3, 494, 780, 593.3), (743, 489.3), (637.7, 506.7),
             661, 676.7, 525, 11.65, LAST_DAY_DEATHS)

fig.savefig("out.png", dpi=100, facecolor="white")
plt.close(fig)
